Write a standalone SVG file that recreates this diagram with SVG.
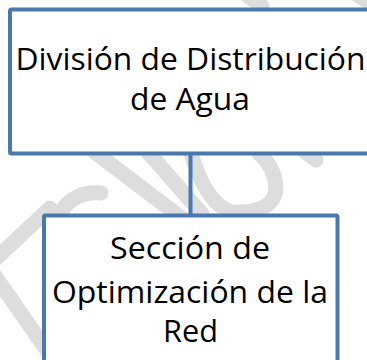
<svg xmlns="http://www.w3.org/2000/svg" width="367" height="360" viewBox="0 0 367 360">
<style>
.wm{fill:none;stroke:#DDDDDD;stroke-width:15;stroke-linecap:round;stroke-linejoin:round}
.box{fill:#FFFFFF;stroke:#4A78AE;stroke-width:4}
.conn{stroke:#4A78AE;stroke-width:4;fill:none}
.t{font-family:"Open Sans","Noto Sans",sans-serif;font-size:31px;fill:#000000;text-anchor:middle}
</style>
<rect width="367" height="360" fill="#FFFFFF"/>
<g id="watermark">
<path class="wm" d="M 50 208 L -12 266 L 48 352"/>
<path class="wm" d="M 55 224 Q 68 190 101 193"/>
<path class="wm" d="M 92 150 L 192 226"/>
<path class="wm" d="M 148 152 L 202 214"/>
<path class="wm" d="M 190 150 Q 206 205 232 212 Q 276 214 276 186 Q 274 166 258 152"/>
<path class="wm" d="M 303 150 L 316 160"/>
<path class="wm" d="M 245 -6 L 262 6"/>
<path class="wm" d="M 356 -6 L 368 2"/>
</g>
<g id="connectors">
<line class="conn" x1="190.5" y1="153" x2="190.5" y2="216"/>
</g>
<g id="node-division">
<rect class="box" x="10" y="9.5" width="380" height="144" rx="1.5"/>
<text class="t" x="190.5" y="70" textLength="350" lengthAdjust="spacingAndGlyphs">División de Distribución</text>
<text class="t" x="190" y="110" textLength="120" lengthAdjust="spacingAndGlyphs">de Agua</text>
</g>
<g id="node-seccion">
<rect class="box" x="44" y="215.5" width="293.5" height="160" rx="1.5"/>
<text class="t" x="190" y="259" textLength="160" lengthAdjust="spacingAndGlyphs">Sección de</text>
<text class="t" x="190" y="303" textLength="276" lengthAdjust="spacingAndGlyphs">Optimización de la</text>
<text class="t" x="190.5" y="342" textLength="55" lengthAdjust="spacingAndGlyphs">Red</text>
</g>
</svg>
